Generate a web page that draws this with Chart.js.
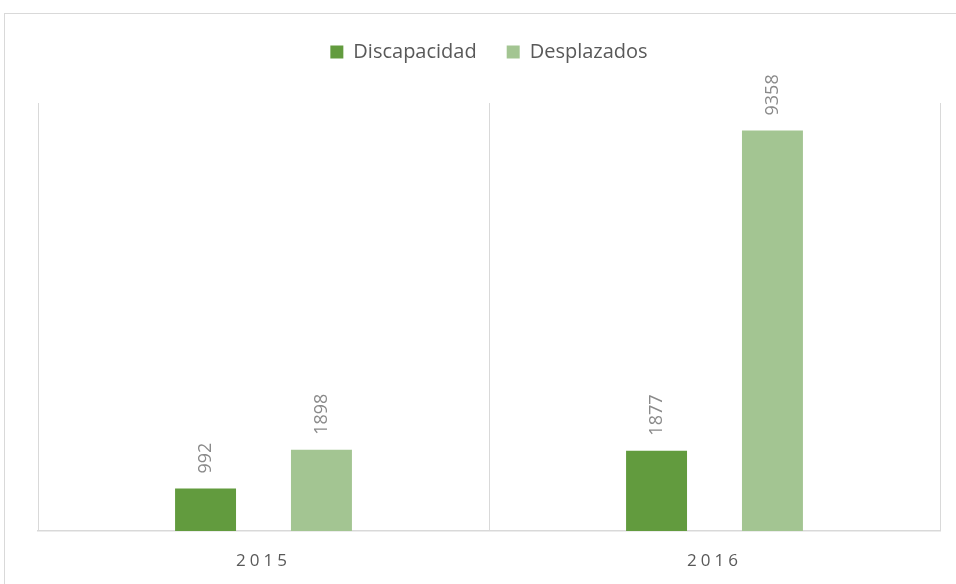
<!DOCTYPE html>
<html>
<head>
<meta charset="utf-8">
<script src="https://cdn.jsdelivr.net/npm/chart.js@4"></script>
<style>
  html, body { margin: 0; padding: 0; background: #ffffff; }
  #wrap { position: relative; width: 956px; height: 584px; overflow: hidden; }
  #frame { position: absolute; left: 4px; top: 13px; width: 1000px; height: 1000px; border: 1.5px solid #d9d9d9; box-sizing: border-box; }
  canvas { position: absolute; left: 0; top: 0; }
</style>
</head>
<body>
<div id="wrap">
  <div id="frame"></div>
  <canvas id="c" width="956" height="584"></canvas>
</div>
<script>
const categories = ['2015', '2016'];
const seriesNames = ['Discapacidad', 'Desplazados'];
const discapacidad = [992, 1877];
const desplazados = [1898, 9358];
const colors = ['#629b3e', '#a3c592'];

const valueLabels = {
  id: 'valueLabels',
  afterDatasetsDraw(chart) {
    const ctx = chart.ctx;
    ctx.save();
    ctx.fillStyle = '#8a8a8a';
    ctx.font = '18px "Open Sans"';
    ctx.textAlign = 'left';
    ctx.textBaseline = 'middle';
    chart.data.datasets.forEach((ds, di) => {
      const meta = chart.getDatasetMeta(di);
      meta.data.forEach((bar, i) => {
        ctx.save();
        ctx.translate(bar.x, bar.y - 15);
        ctx.rotate(-Math.PI / 2);
        ctx.fillText(String(ds.data[i]), 0, 0);
        ctx.restore();
      });
    });
    ctx.restore();
  }
};

const layoutTweaks = {
  id: 'layoutTweaks',
  afterInit(chart) {
    const lg = chart.legend;
    if (lg && !lg._fitPatched) {
      const origFit = lg.fit;
      lg.fit = function () {
        origFit.call(this);
        this.height += 31;
      };
      lg._fitPatched = true;
    }
  },
  beforeDraw(chart) {
    const sc = chart.scales.x;
    if (sc && !sc._spacedPatched) {
      const orig = sc.drawLabels;
      sc.drawLabels = function (area) {
        this.ctx.save();
        this.ctx.letterSpacing = '4px';
        orig.call(this, area);
        this.ctx.restore();
      };
      sc._spacedPatched = true;
    }
  }
};

new Chart(document.getElementById('c'), {
  type: 'bar',
  data: {
    labels: categories,
    datasets: [
      { label: seriesNames[0], data: discapacidad, backgroundColor: colors[0] },
      { label: seriesNames[1], data: desplazados, backgroundColor: colors[1] }
    ]
  },
  options: {
    responsive: false,
    animation: false,
    devicePixelRatio: 1,
    layout: { padding: { top: 12, left: 38, right: 16, bottom: 0 } },
    datasets: { bar: { categoryPercentage: 0.514, barPercentage: 0.526 } },
    plugins: {
      legend: {
        position: 'top',
        labels: {
          boxWidth: 13, boxHeight: 13, padding: 30,
          color: '#595959',
          font: { family: '"Open Sans"', size: 20 }
        }
      },
      tooltip: { enabled: false }
    },
    scales: {
      x: {
        afterFit(scale) { scale.height = 53; },
        grid: { display: true, offset: true, color: '#d9d9d9', lineWidth: 1, drawTicks: false },
        border: { display: true, color: '#d9d9d9', width: 1.5 },
        ticks: { color: '#595959', padding: 20, font: { family: '"Open Sans"', size: 17 } }
      },
      y: {
        display: false,
        min: 0, max: 10000
      }
    }
  },
  plugins: [valueLabels, layoutTweaks]
});
</script>
</body>
</html>
